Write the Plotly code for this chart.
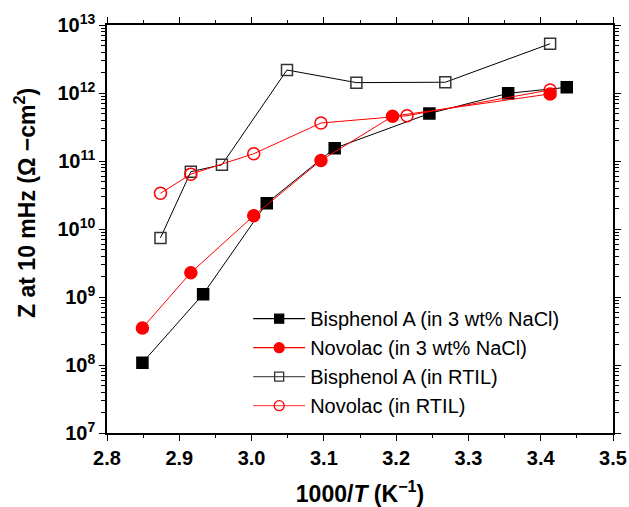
import plotly.graph_objects as go

# 1000/T (K^-1) and |Z| at 10 mHz (ohm cm^2)
bpa_nacl_x = [2.849, 2.933, 3.021, 3.115, 3.246, 3.355, 3.436]
bpa_nacl_z = [1.08e8, 1.1e9, 2.4e10, 1.54e11, 5.0e11, 9.9e11, 1.21e12]

nov_nacl_x = [2.849, 2.916, 3.003, 3.096, 3.195, 3.413]
nov_nacl_z = [3.5e8, 2.28e9, 1.57e10, 1.02e11, 4.54e11, 9.7e11]

bpa_rtil_x = [2.874, 2.916, 2.959, 3.049, 3.145, 3.268, 3.413]
bpa_rtil_z = [7.4e9, 6.96e10, 8.8e10, 2.18e12, 1.42e12, 1.44e12, 5.3e12]

nov_rtil_x = [2.874, 2.916, 3.003, 3.096, 3.215, 3.413]
nov_rtil_z = [3.35e10, 6.4e10, 1.28e11, 3.62e11, 4.64e11, 1.11e12]

series_names = [
    "Bisphenol A (in 3 wt% NaCl)",
    "Novolac (in 3 wt% NaCl)",
    "Bisphenol A (in RTIL)",
    "Novolac (in RTIL)",
]

# decade ticks of the impedance axis
y_exponents = [7, 8, 9, 10, 11, 12, 13]
y_tickvals = [10.0 ** e for e in y_exponents]
y_ticktext = [f"10<sup>{e}</sup>" for e in y_exponents]
minor_y = [m * 10.0 ** k for k in range(7, 13) for m in range(2, 10)]

FONT = "Arial, Liberation Sans, sans-serif"

fig = go.Figure()

styles = [
    (bpa_nacl_x, bpa_nacl_z, "black", "square", "black", 11),
    (nov_nacl_x, nov_nacl_z, "red", "circle", "red", 12),
    (bpa_rtil_x, bpa_rtil_z, "black", "square-open", "#333333", 11),
    (nov_rtil_x, nov_rtil_z, "red", "circle-open", "red", 12),
]

for i, (xs, zs, lc, sym, mc, ms) in enumerate(styles):
    fig.add_trace(go.Scatter(
        x=xs, y=zs, mode="lines+markers", showlegend=False,
        line=dict(color=lc, width=1),
        marker=dict(symbol=sym, size=ms, color=mc,
                    line=dict(color=mc, width=1.5)),
    ))

# legend entries use slightly smaller symbols than the plotted points
legend_line_colors = ["black", "red", "#555555", "#ff5555"]
for i, (xs, zs, lc, sym, mc, ms) in enumerate(styles):
    fig.add_trace(go.Scatter(
        x=[None], y=[None], mode="lines+markers", name=series_names[i],
        line=dict(color=legend_line_colors[i], width=1.2),
        marker=dict(symbol=sym, size=ms - 2, color=mc,
                    line=dict(color=mc, width=1.3)),
    ))

fig.update_layout(
    width=629, height=507,
    margin=dict(l=107, r=16, t=25, b=74, autoexpand=False),
    paper_bgcolor="white", plot_bgcolor="white",
    font=dict(family=FONT, color="black"),
    showlegend=True,
    legend=dict(
        x=0.279, y=0.328, xanchor="left", yanchor="top",
        bgcolor="rgba(0,0,0,0)",
        font=dict(size=20, family=FONT, color="black"),
        traceorder="normal",
        itemwidth=52,
    ),
)

# vertical axis title, placed a little above the axis centre
fig.add_annotation(
    text="Z at 10 mHz (\u03a9 \u2212cm<sup>2</sup>)",
    xref="paper", yref="paper", x=-0.162, y=0.564,
    xanchor="center", yanchor="middle", textangle=-90, showarrow=False,
    font=dict(size=23, family=FONT, weight="bold", color="black"),
)

fig.update_xaxes(
    range=[2.8, 3.5], dtick=0.1, tickformat=".1f",
    showline=True, linecolor="black", linewidth=1.5, mirror="allticks",
    ticks="outside", ticklen=6, tickwidth=1.2, tickcolor="black",
    minor=dict(dtick=0.05, ticks="outside", ticklen=3, tickcolor="black", showgrid=False),
    showgrid=False, zeroline=False,
    tickfont=dict(size=20, family=FONT, weight="bold"),
    title=dict(text="1000/<i>T</i> (K<sup>\u22121</sup>)", standoff=18,
               font=dict(size=23, family=FONT, weight="bold")),
)

fig.update_yaxes(
    type="log", range=[7, 13], tickmode="array",
    tickvals=y_tickvals, ticktext=y_ticktext,
    showline=True, linecolor="black", linewidth=1.5, mirror="allticks",
    ticks="outside", ticklen=6, tickwidth=1.2, tickcolor="black",
    minor=dict(tickvals=minor_y, ticks="outside", ticklen=4, tickcolor="black",
               tickwidth=1, showgrid=False),
    showgrid=False, zeroline=False,
    tickfont=dict(size=20, family=FONT, weight="bold"),
)

fig.write_html("out.html")
